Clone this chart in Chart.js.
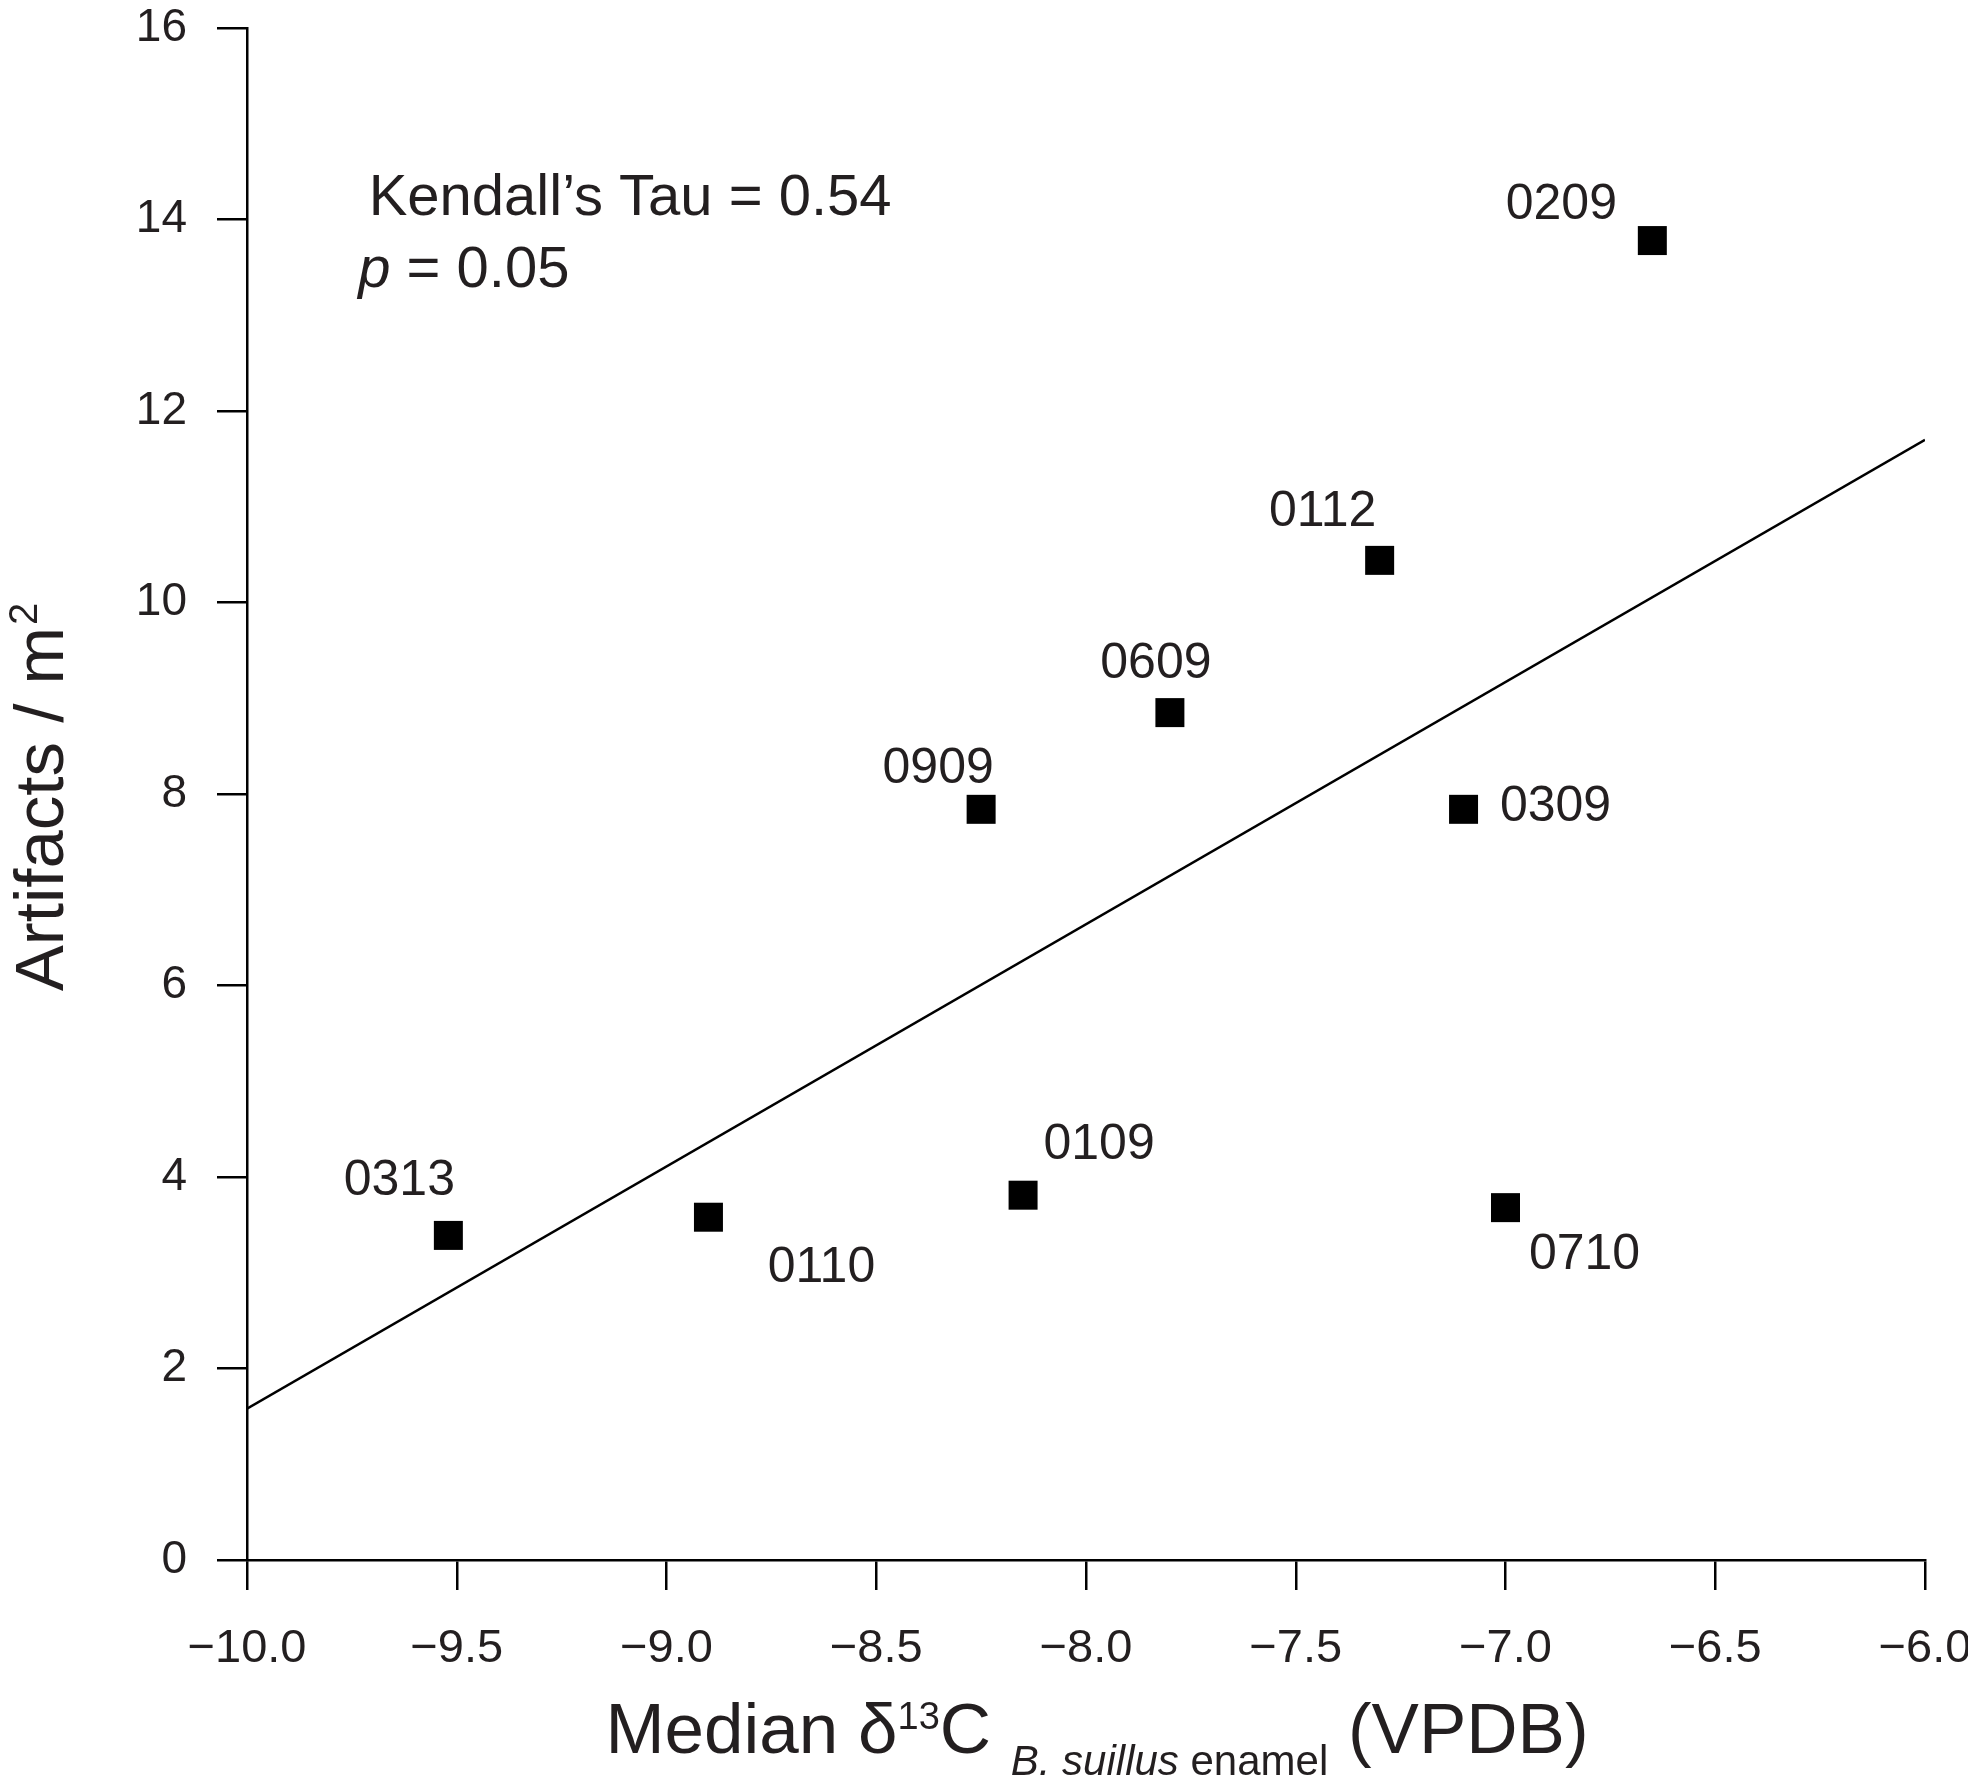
<!DOCTYPE html>
<html>
<head>
<meta charset="utf-8">
<title>Artifacts vs median d13C</title>
<script src="https://cdn.jsdelivr.net/npm/chart.js@4.4.1/dist/chart.umd.min.js"></script>
<style>
  html, body { margin: 0; padding: 0; background: #fff; }
  #wrap { width: 1968px; height: 1783px; }
</style>
</head>
<body>
<div id="wrap"><canvas id="scatterChart" width="1968" height="1783"></canvas></div>
<script>
  'use strict';

  // site codes and values
  const sites = ['0313', '0110', '0109', '0909', '0609', '0112', '0309', '0710', '0209'];
  const d13C = [-9.52, -8.90, -8.15, -8.25, -7.80, -7.30, -7.10, -7.00, -6.65];
  const artifacts = [3.39, 3.58, 3.81, 7.84, 8.85, 10.44, 7.84, 3.68, 13.78];

  // fitted line end points
  const fitX = [-10, -6];
  const fitY = [1.58, 11.70];

  const xTicks = [-10, -9.5, -9, -8.5, -8, -7.5, -7, -6.5, -6];
  const xTickLabels = ['\u221210.0', '\u22129.5', '\u22129.0', '\u22128.5', '\u22128.0', '\u22127.5', '\u22127.0', '\u22126.5', '\u22126.0'];
  const yTicks = [0, 2, 4, 6, 8, 10, 12, 14, 16];
  const yTickLabels = ['0', '2', '4', '6', '8', '10', '12', '14', '16'];

  // where each site label sits relative to its square (px)
  const labelOffsets = [[-49, -54], [113, 51], [76, -50], [-43, -40], [-14, -48], [-57, -48], [92, -2], [79, 48], [-91, -35]];

  const FONT = '"Liberation Sans", Arial, Helvetica, sans-serif';
  const TEXT = '#231f20';

  const overlay = {
    id: 'overlay',
    afterDatasetsDraw(chart) {
      const ctx = chart.ctx;
      const xs = chart.scales.x, ys = chart.scales.y;
      ctx.save();
      ctx.fillStyle = TEXT;

      // site labels
      ctx.font = '50px ' + FONT;
      ctx.textAlign = 'center';
      ctx.textBaseline = 'middle';
      sites.forEach(function(s, i) {
        const px = xs.getPixelForValue(d13C[i]);
        const py = ys.getPixelForValue(artifacts[i]);
        ctx.fillText(s, px + labelOffsets[i][0], py + labelOffsets[i][1]);
      });

      // statistics note
      ctx.textAlign = 'left';
      ctx.textBaseline = 'alphabetic';
      ctx.font = '58px ' + FONT;
      ctx.fillText('Kendall\u2019s Tau = 0.54', xs.getPixelForValue(-9.71), ys.getPixelForValue(14.05));
      let x2 = xs.getPixelForValue(-9.735), y2 = ys.getPixelForValue(13.29);
      ctx.font = 'italic 58px ' + FONT;
      ctx.fillText('p', x2, y2);
      x2 += ctx.measureText('p').width;
      ctx.font = '58px ' + FONT;
      ctx.fillText(' = 0.05', x2, y2);

      // x axis title with super/subscripts
      const area = chart.chartArea;
      const base = area.bottom + 193;
      const parts = [
        { t: 'Median \u03b4', f: '71px ', dy: 0 },
        { t: '13', f: '38px ', dy: -24 },
        { t: 'C ', f: '71px ', dy: 0 },
        { t: 'B. suillus', f: 'italic 42px ', dy: 22 },
        { t: ' enamel', f: '42px ', dy: 22 },
        { t: ' (VPDB)', f: '71px ', dy: 0 }
      ];
      let total = 0;
      parts.forEach(function(p) { ctx.font = p.f + FONT; p.w = ctx.measureText(p.t).width; total += p.w; });
      let cx = (area.left + area.right) / 2 + 11 - total / 2;
      parts.forEach(function(p) {
        ctx.font = p.f + FONT;
        ctx.fillText(p.t, cx, base + p.dy);
        cx += p.w;
      });

      // y axis title
      ctx.translate(63, (area.top + area.bottom) / 2 + 4);
      ctx.rotate(-Math.PI / 2);
      ctx.font = '69px ' + FONT;
      const mw = ctx.measureText('Artifacts / m').width;
      ctx.font = '40px ' + FONT;
      const sw = ctx.measureText('2').width;
      const start = -(mw + sw) / 2;
      ctx.font = '69px ' + FONT;
      ctx.fillText('Artifacts / m', start, 0);
      ctx.font = '40px ' + FONT;
      ctx.fillText('2', start + mw + 2, -26);
      ctx.restore();
    }
  };

  new Chart(document.getElementById('scatterChart'), {
    type: 'scatter',
    data: {
      datasets: [
        {
          label: 'Sites',
          data: d13C.map(function(x, i) { return { x: x, y: artifacts[i] }; }),
          pointStyle: 'rect',
          pointRadius: 20.5,
          pointHoverRadius: 20.5,
          backgroundColor: '#000',
          borderWidth: 0
        },
        {
          label: 'Fit',
          data: fitX.map(function(x, i) { return { x: x, y: fitY[i] }; }),
          showLine: true,
          borderColor: '#000',
          borderWidth: 2.5,
          pointRadius: 0,
          fill: false
        }
      ]
    },
    options: {
      responsive: false,
      animation: false,
      events: [],
      layout: { padding: { top: 28, right: 43, bottom: 0, left: 0 } },
      plugins: { legend: { display: false }, tooltip: { enabled: false } },
      scales: {
        x: {
          type: 'linear',
          min: -10, max: -6,
          afterBuildTicks: function(scale) { scale.ticks = xTicks.map(function(v) { return { value: v }; }); },
          afterFit: function(scale) { scale.height = 223; scale.paddingLeft = 0; scale.paddingRight = 0; },
          border: { display: true, color: '#000', width: 2.5 },
          grid: { drawOnChartArea: false, drawTicks: true, tickLength: 30, color: '#000', lineWidth: 2.5 },
          ticks: {
            autoSkip: false, maxRotation: 0, padding: 31, color: TEXT,
            font: { family: FONT, size: 47 },
            callback: function(v, i) { return xTickLabels[i]; }
          }
        },
        y: {
          type: 'linear',
          min: 0, max: 16,
          afterBuildTicks: function(scale) { scale.ticks = yTicks.map(function(v) { return { value: v }; }); },
          afterFit: function(scale) { scale.width = 247; scale.paddingTop = 0; scale.paddingBottom = 0; },
          border: { display: true, color: '#000', width: 2.5 },
          grid: { drawOnChartArea: false, drawTicks: true, tickLength: 30, color: '#000', lineWidth: 2.5 },
          ticks: {
            autoSkip: false, padding: 30, color: TEXT,
            font: { family: FONT, size: 46 },
            callback: function(v, i) { return yTickLabels[i]; }
          }
        }
      }
    },
    plugins: [overlay]
  });
</script>
</body>
</html>
